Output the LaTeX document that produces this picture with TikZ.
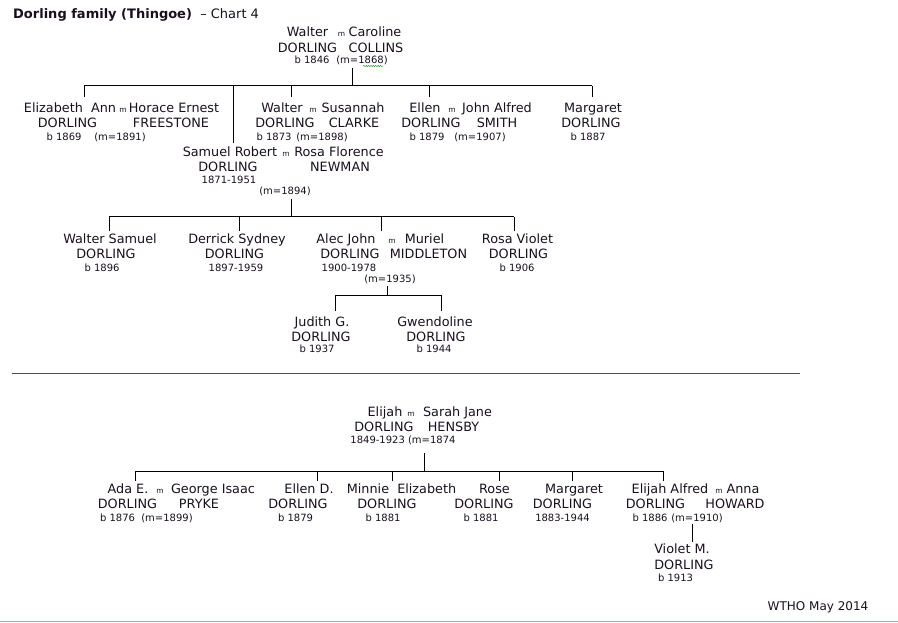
\documentclass[tikz,border=0pt]{standalone}
\usepackage{fontspec}
\setmainfont{DejaVu Sans}
\usetikzlibrary{decorations.pathmorphing}
\definecolor{WTHOink}{RGB}{25,15,30}
\definecolor{WTHOedge}{RGB}{150,170,195}

\begin{document}
\begin{tikzpicture}[x=1pt,y=-1pt,
    pname/.style={font=\fontsize{12.8}{15}\selectfont, text=WTHOink, anchor=base, inner sep=0pt},
    pdate/.style={font=\fontsize{10}{12}\selectfont, text=WTHOink, anchor=base, inner sep=0pt},
    wed/.style={font=\fontsize{7.5}{9}\selectfont, text=WTHOink, anchor=base, inner sep=0pt},
    tie/.style={line width=1pt, black}]
    \useasboundingbox (0,0) rectangle (898,623);

    \node[pname, font=\fontsize{13}{15}\selectfont, anchor=base west] (title) at (13,18.7) {\textbf{Dorling family (Thingoe)}\ \ – Chart 4};

    % Walter and Caroline
    \node[pname] (walterA) at (307.5,36.5) {Walter};
    \node[wed] (mA) at (341.5,36.5) {m};
    \node[pname] (carolineA) at (375,36.5) {Caroline};
    \node[pname] (walterAs) at (307.5,52.5) {DORLING};
    \node[pname] (carolineAs) at (376,52.5) {COLLINS};
    \node[pdate] (walterAb) at (312,63.5) {b 1846};
    \node[pdate] (mAd) at (362,63.5) {(m=1868)};
    \draw[green!55!black, decorate, decoration={snake, amplitude=.6pt, segment length=2.4pt}] (363,66) -- (383,66);

    \node[pname] (elizabeth) at (70,112.5) {Elizabeth\ \ Ann};
    \node[wed] (mB) at (123,112.5) {m};
    \node[pname] (horace) at (174,112.5) {Horace Ernest};
    \node[pname] (elizabeths) at (67.5,127.5) {DORLING};
    \node[pname] (horaces) at (171,127.5) {FREESTONE};
    \node[pdate] (elizabethb) at (64,140.5) {b 1869};
    \node[pdate] (mBd) at (120,140.5) {(m=1891)};

    \node[pname] (walterB) at (282,112.5) {Walter};
    \node[wed] (mC) at (313,112.5) {m};
    \node[pname] (susannah) at (353,112.5) {Susannah};
    \node[pname] (walterBs) at (285,127.5) {DORLING};
    \node[pname] (susannahs) at (354,127.5) {CLARKE};
    \node[pdate] (walterBb) at (274,140.5) {b 1873};
    \node[pdate] (mCd) at (322,140.5) {(m=1898)};

    \node[pname] (ellenA) at (425,112.5) {Ellen};
    \node[wed] (mD) at (452,112.5) {m};
    \node[pname] (john) at (497,112.5) {John Alfred};
    \node[pname] (ellenAs) at (431,127.5) {DORLING};
    \node[pname] (johns) at (497,127.5) {SMITH};
    \node[pdate] (ellenAb) at (427,140.5) {b 1879};
    \node[pdate] (mDd) at (480,140.5) {(m=1907)};

    \node[pname] (margaretA) at (593,112.5) {Margaret};
    \node[pname] (margaretAs) at (591,127.5) {DORLING};
    \node[pdate] (margaretAb) at (588,140.5) {b 1887};

    % Samuel Robert and Rosa Florence
    \node[pname] (samuel) at (230,156.5) {Samuel Robert};
    \node[wed] (mE) at (286,156.5) {m};
    \node[pname] (rosaF) at (339,156.5) {Rosa Florence};
    \node[pname] (samuels) at (228,171.5) {DORLING};
    \node[pname] (rosaFs) at (340,171.5) {NEWMAN};
    \node[pdate] (samuelb) at (229,183.5) {1871-1951};
    \node[pdate] (mEd) at (285,194.5) {(m=1894)};

    \node[pname] (walterC) at (110,243.5) {Walter Samuel};
    \node[pname] (walterCs) at (106,258.5) {DORLING};
    \node[pdate] (walterCb) at (102,271.5) {b 1896};

    \node[pname] (derrick) at (237,243.5) {Derrick Sydney};
    \node[pname] (derricks) at (234.5,258.5) {DORLING};
    \node[pdate] (derrickb) at (236,271.5) {1897-1959};

    \node[pname] (alec) at (346,243.5) {Alec John};
    \node[wed] (mF) at (392,243.5) {m};
    \node[pname] (muriel) at (424.5,243.5) {Muriel};
    \node[pname] (alecs) at (350,258.5) {DORLING};
    \node[pname] (muriels) at (428.5,258.5) {MIDDLETON};
    \node[pdate] (alecb) at (349,271.5) {1900-1978};
    \node[pdate] (mFd) at (390,282.5) {(m=1935)};

    \node[pname] (rosaV) at (517.5,243.5) {Rosa Violet};
    \node[pname] (rosaVs) at (518.5,258.5) {DORLING};
    \node[pdate] (rosaVb) at (517,271.5) {b 1906};

    \node[pname] (judith) at (322,326.5) {Judith G.};
    \node[pname] (judiths) at (321,341.5) {DORLING};
    \node[pdate] (judithb) at (317,352.5) {b 1937};

    \node[pname] (gwendoline) at (435,326.5) {Gwendoline};
    \node[pname] (gwendolines) at (436,341.5) {DORLING};
    \node[pdate] (gwendolineb) at (434,352.5) {b 1944};

    % Elijah and Sarah Jane
    \node[pname] (elijahA) at (385,416.5) {Elijah};
    \node[wed] (mG) at (411,416.5) {m};
    \node[pname] (sarah) at (457.5,416.5) {Sarah Jane};
    \node[pname] (elijahAs) at (384,431.5) {DORLING};
    \node[pname] (sarahs) at (453.5,431.5) {HENSBY};
    \node[pdate] (elijahAb) at (403,443.5) {1849-1923 (m=1874};

    \node[pname] (ada) at (128,493.5) {Ada E.};
    \node[wed] (mH) at (160,493.5) {m};
    \node[pname] (george) at (213,493.5) {George Isaac};
    \node[pname] (adas) at (127.5,508.5) {DORLING};
    \node[pname] (georges) at (199,508.5) {PRYKE};
    \node[pdate] (adab) at (117.5,521.5) {b 1876};
    \node[pdate] (mHd) at (167,521.5) {(m=1899)};

    \node[pname] (ellenB) at (309,493.5) {Ellen D.};
    \node[pname] (ellenBs) at (298,508.5) {DORLING};
    \node[pdate] (ellenBb) at (295.5,521.5) {b 1879};

    \node[pname] (minnie) at (401.5,493.5) {Minnie\ \ Elizabeth};
    \node[pname] (minnies) at (387,508.5) {DORLING};
    \node[pdate] (minnieb) at (383,521.5) {b 1881};

    \node[pname] (rose) at (494.5,493.5) {Rose};
    \node[pname] (roses) at (484,508.5) {DORLING};
    \node[pdate] (roseb) at (481,521.5) {b 1881};

    \node[pname] (margaretB) at (574,493.5) {Margaret};
    \node[pname] (margaretBs) at (562.5,508.5) {DORLING};
    \node[pdate] (margaretBb) at (562.5,521.5) {1883-1944};

    \node[pname] (elijahB) at (670,493.5) {Elijah Alfred};
    \node[wed] (mJ) at (719,493.5) {m};
    \node[pname] (anna) at (743,493.5) {Anna};
    \node[pname] (elijahBs) at (655.5,508.5) {DORLING};
    \node[pname] (annas) at (735,508.5) {HOWARD};
    \node[pdate] (elijahBb) at (650,521.5) {b 1886};
    \node[pdate] (mJd) at (697,521.5) {(m=1910)};

    \node[pname] (violet) at (682,553.5) {Violet M.};
    \node[pname] (violets) at (684,569.5) {DORLING};
    \node[pdate] (violetb) at (675.5,581.5) {b 1913};

    \node[pname, font=\fontsize{12}{14}\selectfont] (wtho) at (818,610.5) {WTHO May 2014};

    % connectors
    \coordinate (topA) at (352,68);
    \coordinate (barAL) at (84,86);
    \coordinate (barAR) at (592,86);
    \coordinate (dElizabeth) at (84,97);
    \coordinate (dSamuel) at (233,143);
    \coordinate (dWalter) at (291,97);
    \coordinate (dEllen) at (429,97);
    \coordinate (dMargaret) at (592,97);
    \draw[tie] (topA) -- (topA |- barAL);
    \draw[tie] (barAL) -- (barAR);
    \foreach \c in {dElizabeth,dSamuel,dWalter,dEllen,dMargaret}
        \draw[tie] (\c |- barAL) -- (\c);

    \coordinate (topE) at (291,199);
    \coordinate (barEL) at (109,217);
    \coordinate (barER) at (514,217);
    \coordinate (dWalterS) at (109,231);
    \coordinate (dDerrick) at (239,231);
    \coordinate (dAlec) at (381,231);
    \coordinate (dRosa) at (514,231);
    \draw[tie] (topE) -- (topE |- barEL);
    \draw[tie] (barEL) -- (barER);
    \foreach \c in {dWalterS,dDerrick,dAlec,dRosa}
        \draw[tie] (\c |- barEL) -- (\c);

    \coordinate (topF) at (387,286);
    \coordinate (barFL) at (335,295);
    \coordinate (barFR) at (441,295);
    \coordinate (dJudith) at (335,311);
    \coordinate (dGwen) at (441,311);
    \draw[tie] (topF) -- (topF |- barFL);
    \draw[tie] (barFL) -- (barFR);
    \foreach \c in {dJudith,dGwen}
        \draw[tie] (\c |- barFL) -- (\c);

    \coordinate (sepL) at (12,373);
    \coordinate (sepR) at (800,373);
    \draw[line width=1pt, black!70] (sepL) -- (sepR);

    \coordinate (topG) at (424,453);
    \coordinate (barGL) at (135,471);
    \coordinate (barGR) at (663,471);
    \coordinate (dAda) at (135,481);
    \coordinate (dEllenD) at (317,481);
    \coordinate (dMinnie) at (392,481);
    \coordinate (dRose) at (499,481);
    \coordinate (dMargaretB) at (572,481);
    \coordinate (dElijah) at (663,481);
    \draw[tie] (topG) -- (topG |- barGL);
    \draw[tie] (barGL) -- (barGR);
    \foreach \c in {dAda,dEllenD,dMinnie,dRose,dMargaretB,dElijah}
        \draw[tie] (\c |- barGL) -- (\c);

    \coordinate (topJ) at (692,524);
    \coordinate (dViolet) at (692,542);
    \draw[tie] (topJ) -- (dViolet);

    \coordinate (edgeL) at (0,621.5);
    \coordinate (edgeR) at (898,621.5);
    \draw[line width=1.5pt, WTHOedge] (edgeL) -- (edgeR);
\end{tikzpicture}
\end{document}
